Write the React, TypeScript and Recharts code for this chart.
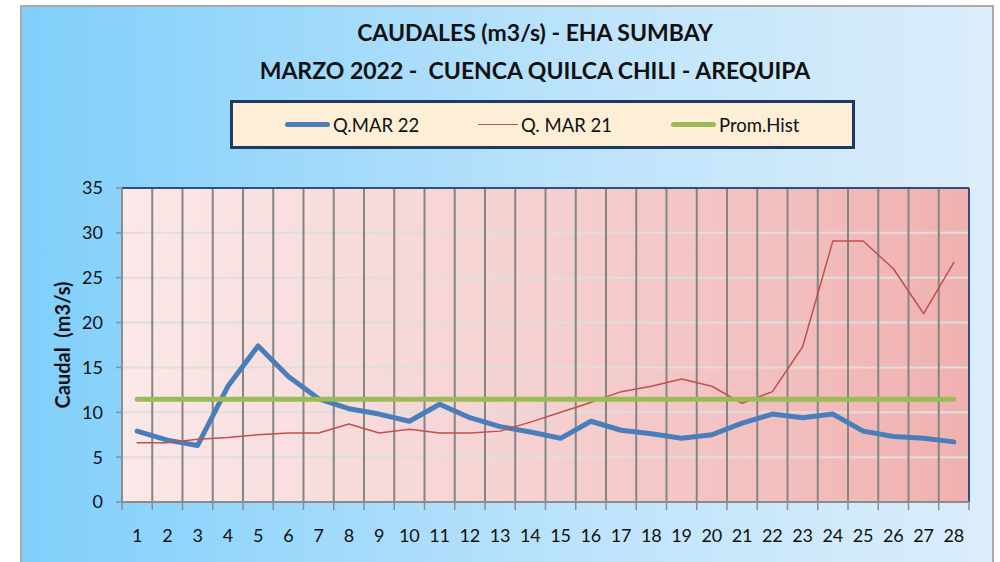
import { LineChart, Line, XAxis, YAxis, CartesianGrid, ReferenceLine } from 'recharts';

const days = [1, 2, 3, 4, 5, 6, 7, 8, 9, 10, 11, 12, 13, 14, 15, 16, 17, 18, 19, 20, 21, 22, 23, 24, 25, 26, 27, 28];
const qMar22 = [7.9, 6.9, 6.3, 12.9, 17.4, 14.0, 11.5, 10.4, 9.8, 9.0, 10.9, 9.4, 8.4, 7.8, 7.1, 9.0, 8.0, 7.6, 7.1, 7.5, 8.8, 9.8, 9.4, 9.8, 7.9, 7.3, 7.1, 6.7];
const qMar21 = [6.6, 6.6, 7.0, 7.2, 7.5, 7.7, 7.7, 8.7, 7.7, 8.1, 7.7, 7.7, 7.9, 8.9, 10.0, 11.1, 12.3, 12.9, 13.7, 12.9, 11.0, 12.3, 17.3, 29.1, 29.1, 26.0, 21.0, 26.7];
const promHist = [11.45, 11.45, 11.45, 11.45, 11.45, 11.45, 11.45, 11.45, 11.45, 11.45, 11.45, 11.45, 11.45, 11.45, 11.45, 11.45, 11.45, 11.45, 11.45, 11.45, 11.45, 11.45, 11.45, 11.45, 11.45, 11.45, 11.45, 11.45];
const yTicks = [0, 5, 10, 15, 20, 25, 30, 35];

const series = [
  { key: 'q22', name: 'Q.MAR 22', color: '#4a7ebb', width: 5 },
  { key: 'q21', name: 'Q. MAR 21', color: '#c0504d', width: 1.5 },
  { key: 'prom', name: 'Prom.Hist', color: '#9bbb59', width: 5 },
];

const data = days.map((d, i) => ({ day: d, q22: qMar22[i], q21: qMar21[i], prom: promHist[i] }));
// category boundaries for the vertical grid (Excel style, between days)
const bounds = [days[0] - 0.5, ...days.map((d) => d + 0.5)];

const font = 'Lato, "Open Sans", sans-serif';

const YLabel = ({ viewBox }: any) => {
  const cx = viewBox.x + 62;
  const cy = viewBox.y + viewBox.height / 2;
  return (
    <text
      x={cx}
      y={cy}
      transform={`rotate(-90 ${cx} ${cy})`}
      textAnchor="middle"
      dominantBaseline="central"
      fontFamily={font}
      fontWeight={700}
      fontSize={20}
      fill="#111"
    >
      {'Caudal\u00a0\u00a0(m3/s)'}
    </text>
  );
};

const App = () => {
  return (
    <div style={{ position: 'fixed', left: 0, top: 0, width: 1000, height: 562, overflow: 'hidden', background: '#fff', fontFamily: font }}>
      <div
        style={{
          position: 'absolute',
          left: 20,
          top: 5,
          width: 970,
          height: 580,
          border: '2px solid #a9a9a9',
          background: 'linear-gradient(to right, #80cffb, #bfe4fb 60%, #dcedfb)',
        }}
      />
      <div style={{ position: 'absolute', left: 185, top: 13, width: 700, textAlign: 'center', fontWeight: 700, fontSize: 23, color: '#111', lineHeight: '38px' }}>
        <div>CAUDALES (m3/s) - EHA SUMBAY</div>
        <div>MARZO 2022 -&nbsp; CUENCA QUILCA CHILI - AREQUIPA</div>
      </div>

      <div
        style={{
          position: 'absolute',
          left: 230,
          top: 100,
          width: 619,
          height: 43,
          border: '3px solid #1f3864',
          background: '#fdefd6',
        }}
      >
        {series.map((s, i) => (
          <div key={s.key} style={{ position: 'absolute', left: 52 + i * 193, top: 0, height: 43, display: 'flex', alignItems: 'center' }}>
            <div style={{ width: i === 1 ? 40 : 45, height: s.width, background: s.color, borderRadius: 3, marginRight: 3 }} />
            <span style={{ fontSize: 18.5, color: '#111' }}>{s.name}</span>
          </div>
        ))}
      </div>

      <div style={{ position: 'absolute', left: 0, top: 0 }}>
        <LineChart width={1000} height={562} data={data} margin={{ top: 188, right: 31, bottom: 0, left: 0 }}>
          <defs>
            <linearGradient id="plotBg" x1="0" y1="0" x2="1" y2="0">
              <stop offset="0%" stopColor="#fbe8e8" />
              <stop offset="50%" stopColor="#f5d0d0" />
              <stop offset="100%" stopColor="#f0b1b0" />
            </linearGradient>
          </defs>
          <CartesianGrid xAxisId="d" vertical={false} fill="url(#plotBg)" stroke="#dedede" strokeWidth={2} />
          <CartesianGrid xAxisId="b" horizontal={false} stroke="#858585" strokeWidth={2} />
          <XAxis
            xAxisId="b"
            dataKey="day"
            type="number"
            domain={[bounds[0], bounds[bounds.length - 1]]}
            ticks={bounds}
            interval={0}
            height={8}
            tickSize={8}
            tickFormatter={() => ''}
            stroke="#8c8c8c"
            axisLine={{ stroke: '#8c8c8c', strokeWidth: 2 }}
            tickLine={{ stroke: '#8c8c8c', strokeWidth: 1.5 }}
          />
          <XAxis
            xAxisId="d"
            dataKey="day"
            type="number"
            domain={[bounds[0], bounds[bounds.length - 1]]}
            ticks={days}
            interval={0}
            height={52}
            axisLine={false}
            tickLine={false}
            tickSize={0}
            tickMargin={19}
            tick={{ fill: '#111', fontSize: 18, fontFamily: font }}
          />
          <YAxis
            domain={[0, 35]}
            ticks={yTicks}
            interval={0}
            width={122}
            tickSize={6}
            tickMargin={13}
            axisLine={{ stroke: '#8c8c8c', strokeWidth: 2 }}
            tickLine={{ stroke: '#8c8c8c', strokeWidth: 1.5 }}
            tick={{ fill: '#111', fontSize: 18, fontFamily: font }}
            label={<YLabel />}
          />
          <ReferenceLine xAxisId="d" y={35} stroke="#2f4f80" strokeWidth={2} />
          <ReferenceLine xAxisId="d" x={bounds[bounds.length - 1]} stroke="#2f4f80" strokeWidth={2} />
          {series.map((s) => (
            <Line
              key={s.key}
              xAxisId="d"
              type="linear"
              dataKey={s.key}
              name={s.name}
              stroke={s.color}
              strokeWidth={s.width}
              strokeLinecap="round"
              strokeLinejoin="round"
              dot={false}
              activeDot={false}
              isAnimationActive={false}
            />
          ))}
        </LineChart>
      </div>
    </div>
  );
};

export default App;
